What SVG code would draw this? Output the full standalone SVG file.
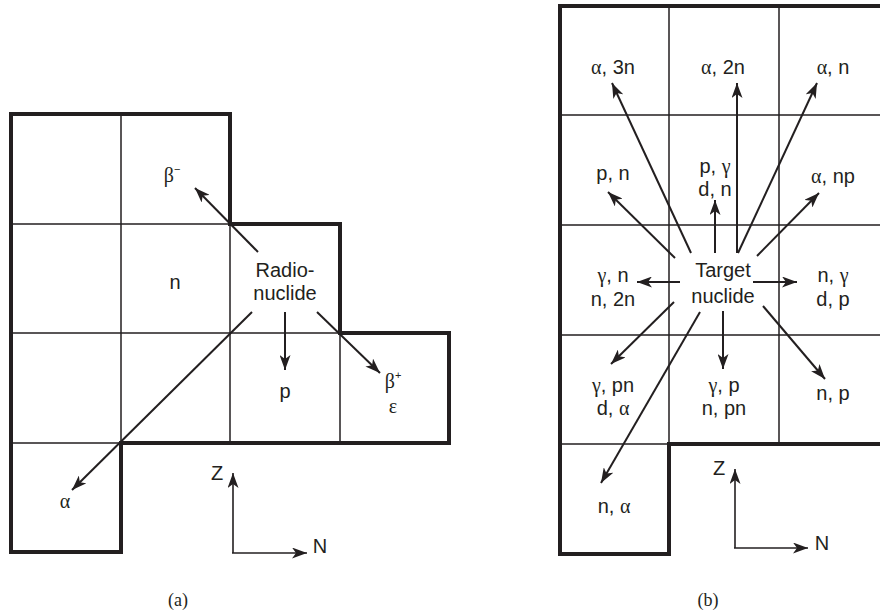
<svg xmlns="http://www.w3.org/2000/svg" width="880" height="616" viewBox="0 0 880 616">
<defs>
<marker id="ah" viewBox="0 0 15 11" refX="15" refY="5.5" markerWidth="15" markerHeight="11" markerUnits="userSpaceOnUse" orient="auto">
<path d="M0,0 L15,5.5 L0,11 L4,5.5 z" fill="#231f20"/>
</marker>
<style>
.thin{stroke:#231f20;stroke-width:1.5;fill:none}
.thick{stroke:#231f20;stroke-width:4;fill:none;stroke-linejoin:miter}
.arr{stroke:#231f20;stroke-width:2;fill:none;marker-end:url(#ah)}
.ax{stroke:#231f20;stroke-width:1.6;fill:none;marker-end:url(#ah)}
text{font-family:"Liberation Sans",Arial,sans-serif;font-size:20px;fill:#231f20;text-anchor:middle}
.g{font-family:"Liberation Serif","Times New Roman",serif}
.sup{font-size:11px}
.cap{font-family:"Liberation Serif","Times New Roman",serif;font-size:18px}
</style>
</defs>
<rect width="880" height="616" fill="#fff"/>

<g id="chart-a">
<path class="thin" d="M121,114 V443 M230,224 V443 M340,333 V443 M11,224 H230 M11,333 H340 M11,443 H121"/>
<path class="thick" d="M11,114 H230 V224 H340 V333 H449 V443 H121 V552 H11 Z"/>
</g>

<g id="chart-b">
<path class="thin" d="M669,6 V444 M779,6 V444 M560,115 H880 M560,225 H880 M560,335 H880 M560,444 H669"/>
<path class="thick" d="M892,444 H669 V554 H560 V6 H892"/>
</g>

<g id="connectors">
<line class="arr" x1="258" y1="252" x2="195" y2="188"/>
<line class="arr" x1="252" y1="312" x2="72" y2="490"/>
<line class="arr" x1="285" y1="312" x2="285" y2="370"/>
<line class="arr" x1="317" y1="312" x2="380" y2="373"/>
<line class="ax" x1="233" y1="553" x2="233" y2="473"/>
<line class="ax" x1="232" y1="553" x2="307" y2="553"/>

<line class="arr" x1="691" y1="253" x2="612" y2="83"/>
<line class="arr" x1="737" y1="253" x2="737" y2="83"/>
<line class="arr" x1="738" y1="253" x2="817" y2="83"/>
<line class="arr" x1="675" y1="258" x2="608" y2="192"/>
<line class="arr" x1="715" y1="253" x2="715" y2="200"/>
<line class="arr" x1="757" y1="256" x2="819" y2="193"/>
<line class="arr" x1="680" y1="282" x2="637" y2="282"/>
<line class="arr" x1="753" y1="282" x2="797" y2="282"/>
<line class="arr" x1="674" y1="302" x2="611" y2="364"/>
<line class="arr" x1="700" y1="312" x2="601" y2="483"/>
<line class="arr" x1="723" y1="311" x2="723" y2="369"/>
<line class="arr" x1="763" y1="306" x2="825" y2="379"/>
<line class="ax" x1="735" y1="548" x2="735" y2="469"/>
<line class="ax" x1="734" y1="548" x2="808" y2="548"/>
</g>

<g id="a-beta-minus"><text x="172" y="182"><tspan class="g">β</tspan><tspan class="sup" dy="-9">−</tspan></text></g>
<g id="a-n"><text x="175" y="289">n</text></g>
<g id="a-radionuclide"><text x="285" y="277">Radio-</text><text x="285" y="300">nuclide</text></g>
<g id="a-p"><text x="285" y="398">p</text></g>
<g id="a-beta-plus"><text x="393" y="388"><tspan class="g">β</tspan><tspan class="sup" dy="-9">+</tspan></text><text class="g" x="393" y="413">ε</text></g>
<g id="a-alpha"><text class="g" x="65" y="508">α</text></g>
<g id="a-axes"><text x="217" y="480">Z</text><text x="320" y="553">N</text></g>
<g id="caption-a"><text class="cap" x="178" y="606">(a)</text></g>

<g id="b-a3n"><text x="613" y="74"><tspan class="g">α</tspan>, 3n</text></g>
<g id="b-a2n"><text x="723" y="74"><tspan class="g">α</tspan>, 2n</text></g>
<g id="b-an"><text x="833" y="74"><tspan class="g">α</tspan>, n</text></g>
<g id="b-pn"><text x="613" y="180">p, n</text></g>
<g id="b-pg"><text x="715" y="173">p, <tspan class="g">γ</tspan></text><text x="715" y="196">d, n</text></g>
<g id="b-anp"><text x="833" y="183"><tspan class="g">α</tspan>, np</text></g>
<g id="b-gn"><text x="613" y="282"><tspan class="g">γ</tspan>, n</text><text x="613" y="306">n, 2n</text></g>
<g id="b-target"><text x="723" y="277">Target</text><text x="723" y="303">nuclide</text></g>
<g id="b-ng"><text x="833" y="282">n, <tspan class="g">γ</tspan></text><text x="833" y="306">d, p</text></g>
<g id="b-gpn"><text x="613" y="392"><tspan class="g">γ</tspan>, pn</text><text x="613" y="415">d, <tspan class="g">α</tspan></text></g>
<g id="b-gp"><text x="724" y="392"><tspan class="g">γ</tspan>, p</text><text x="724" y="415">n, pn</text></g>
<g id="b-np"><text x="833" y="400">n, p</text></g>
<g id="b-na"><text x="614" y="513">n, <tspan class="g">α</tspan></text></g>
<g id="b-axes"><text x="719" y="475">Z</text><text x="822" y="550">N</text></g>
<g id="caption-b"><text class="cap" x="708" y="606">(b)</text></g>
</svg>
